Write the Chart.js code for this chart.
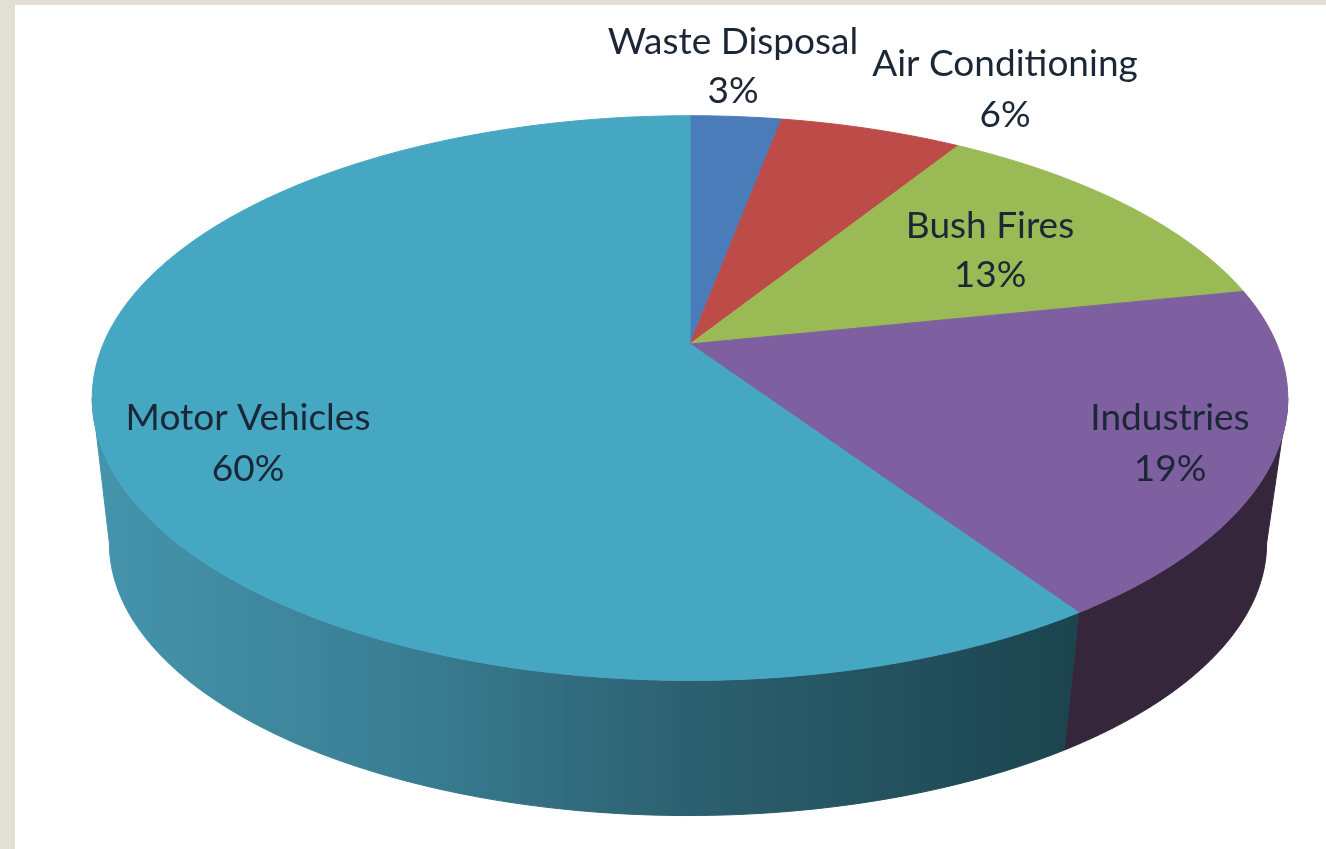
<!DOCTYPE html>
<html>
<head>
<meta charset="utf-8">
<title>Pie</title>
<script src="https://cdn.jsdelivr.net/npm/chart.js@4"></script>
<style>
  html, body { margin: 0; padding: 0; background: #e4dfd5; overflow: hidden; }
  #paper { position: absolute; left: 15px; top: 5px; right: 0; bottom: 0; background: #fff; }
  #myChart { position: absolute; left: 0; top: 0; }
</style>
</head>
<body>
<div id="paper"></div>
<canvas id="myChart" width="1326" height="849"></canvas>
<script>
const categories = ["Waste Disposal", "Air Conditioning", "Bush Fires", "Industries", "Motor Vehicles"];
const shares = [3, 6, 13, 19, 60];
const topColors = ["#4a7cba", "#bd4c48", "#9aba56", "#7e5f9f", "#46a7c2"];

// label centres, one per slice: x, first line y, second line y
const labelSpots = [[733, 42, 91], [1005, 64, 115], [990, 226, 275], [1170, 418, 469], [248, 418, 469]];

// perspective of the tilted disc
const tilt = 0.1915;
const stretchX = 2.157;
const rimStep = Math.PI / 180;

function project(arc, a) {
  let w = 1 - tilt * Math.sin(a);
  return {
    x: arc.x + stretchX * arc.outerRadius * Math.cos(a) / w,
    y: arc.y + arc.outerRadius * Math.sin(a) / w
  };
}

// bottom rim is the top rim moved down and pulled in a little
function dropped(p) {
  return { x: 688 + (p.x - 690) * 0.968, y: 543 + (p.y - 398) * 0.965 };
}

function wallFill(ctx, index) {
  if (index === 3) return "#35263c";
  let g = ctx.createLinearGradient(100, 0, 1080, 0);
  g.addColorStop(0, "#4494ac");
  g.addColorStop(0.3, "#3a7f94");
  g.addColorStop(0.6, "#2c6070");
  g.addColorStop(1, "#1b444d");
  return g;
}

const pie3d = {
  id: "pie3d",
  beforeDatasetsDraw(chart) {
    let ctx = chart.ctx;
    let arcs = chart.getDatasetMeta(0).data;
    let from = Math.asin(tilt);
    let to = Math.PI - from;

    // side wall, only the part of the rim that faces the viewer
    arcs.forEach((arc, i) => {
      let a0 = Math.max(arc.startAngle, from);
      let a1 = Math.min(arc.endAngle, to);
      if (a1 <= a0) return;
      let rim = [];
      for (let a = a0; a < a1; a += rimStep) rim.push(project(arc, a));
      rim.push(project(arc, a1));
      ctx.beginPath();
      rim.forEach((p, n) => n ? ctx.lineTo(p.x, p.y) : ctx.moveTo(p.x, p.y));
      rim.slice().reverse().forEach(p => {
        let q = dropped(p);
        ctx.lineTo(q.x, q.y);
      });
      ctx.closePath();
      ctx.fillStyle = wallFill(ctx, i);
      ctx.strokeStyle = ctx.fillStyle;
      ctx.lineWidth = 1;
      ctx.fill();
      ctx.stroke();
    });

    // top face
    arcs.forEach(arc => {
      ctx.beginPath();
      ctx.moveTo(arc.x, arc.y);
      for (let a = arc.startAngle; a < arc.endAngle; a += rimStep) {
        let p = project(arc, a);
        ctx.lineTo(p.x, p.y);
      }
      let end = project(arc, arc.endAngle);
      ctx.lineTo(end.x, end.y);
      ctx.closePath();
      ctx.fillStyle = arc.options.backgroundColor;
      ctx.strokeStyle = arc.options.backgroundColor;
      ctx.lineWidth = 1;
      ctx.fill();
      ctx.stroke();
    });

    // labels
    ctx.fillStyle = "#1b2636";
    ctx.font = "37px Lato";
    ctx.textAlign = "center";
    ctx.textBaseline = "middle";
    categories.forEach((name, i) => {
      let spot = labelSpots[i];
      ctx.fillText(name, spot[0], spot[1]);
      ctx.fillText(shares[i] + "%", spot[0], spot[2]);
    });
    return false;
  }
};

new Chart(document.getElementById("myChart").getContext("2d"), {
  type: "pie",
  data: {
    labels: categories,
    datasets: [{ data: shares, backgroundColor: topColors, borderWidth: 0 }]
  },
  options: {
    responsive: false,
    animation: false,
    devicePixelRatio: 1,
    layout: { padding: { left: 418, right: 364, top: 72, bottom: 233 } },
    plugins: { legend: { display: false }, tooltip: { enabled: false } }
  },
  plugins: [pie3d]
});
</script>
</body>
</html>
